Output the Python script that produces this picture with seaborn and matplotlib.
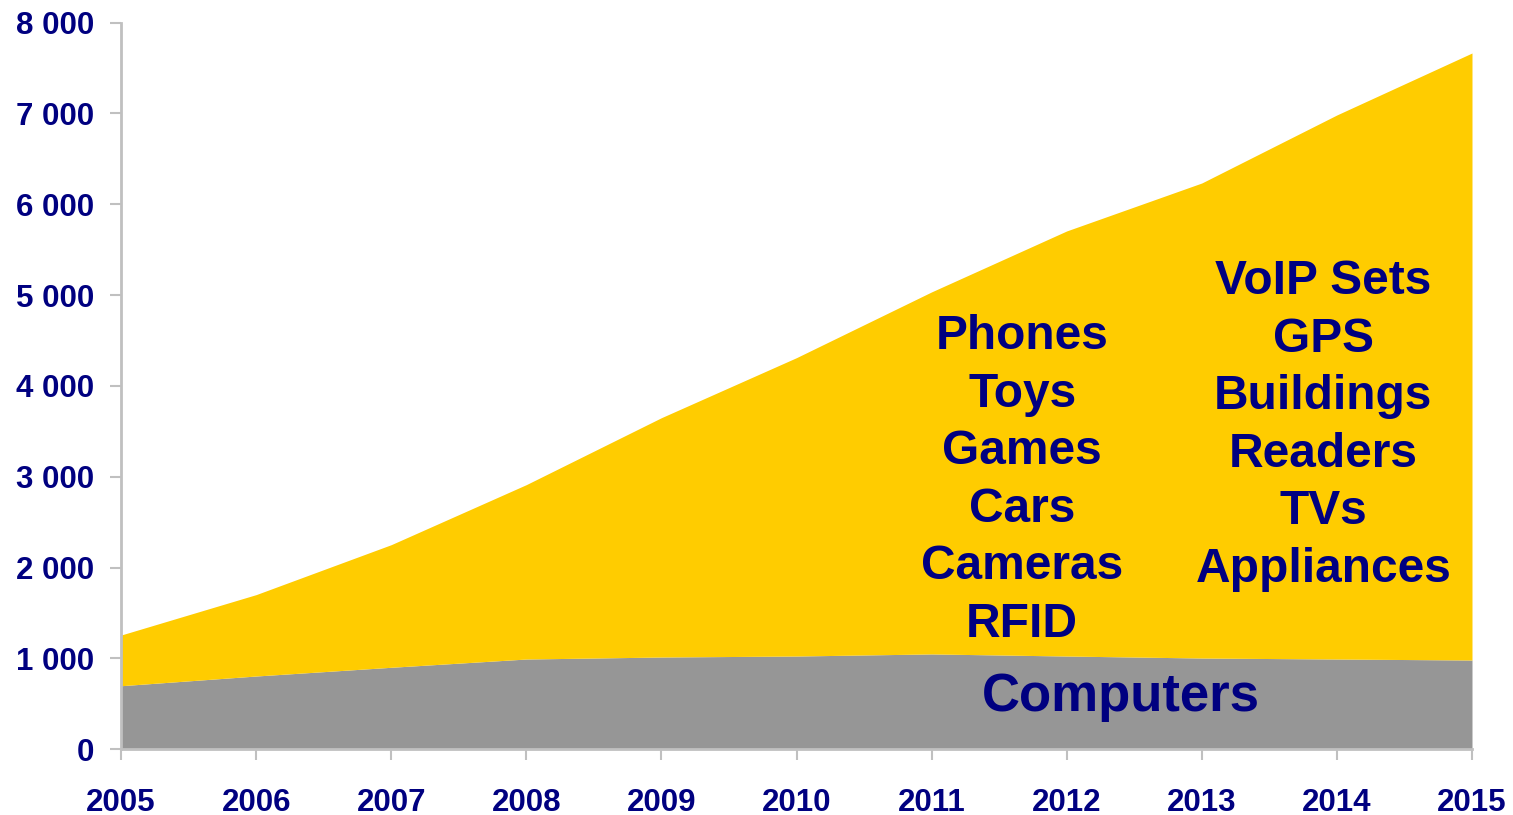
import matplotlib
matplotlib.use("Agg")
import matplotlib.pyplot as plt
import seaborn as sns

# Connected devices by category (thousands)
years = [2005, 2006, 2007, 2008, 2009, 2010, 2011, 2012, 2013, 2014, 2015]
computers = [700, 807, 903, 994, 1016, 1027, 1050, 1027, 1005, 994, 983]
other_devices = [558, 896, 1350, 1920, 2635, 3285, 3986, 4680, 5230, 5990, 6683]

y_ticks = [0, 1000, 2000, 3000, 4000, 5000, 6000, 7000, 8000]
y_tick_labels = ["0", "1 000", "2 000", "3 000", "4 000", "5 000", "6 000", "7 000", "8 000"]

left_labels = ["Phones", "Toys", "Games", "Cars", "Cameras", "RFID"]
right_labels = ["VoIP Sets", "GPS", "Buildings", "Readers", "TVs", "Appliances"]
base_label = "Computers"

NAVY = "#000080"
GOLD = "#FFCC00"
GREY = "#969696"
AXIS = "#C0C0C0"

sns.set_theme(style="white")
plt.rcParams["font.family"] = ["Liberation Sans", "DejaVu Sans"]
plt.rcParams["font.weight"] = "bold"

fig = plt.figure(figsize=(15.13, 8.15), dpi=100)
ax = fig.add_axes([0.0800, 0.0806, 0.8929, 0.8916])

ax.stackplot(years, computers, other_devices, colors=[GREY, GOLD], linewidth=0)

ax.set_xlim(years[0], years[-1])
ax.set_ylim(0, 8000)
ax.set_xticks(years)
ax.set_xticklabels([str(y) for y in years])
ax.set_yticks(y_ticks)
ax.set_yticklabels(y_tick_labels)

for side in ("top", "right"):
    ax.spines[side].set_visible(False)
for side in ("left", "bottom"):
    ax.spines[side].set_color(AXIS)
    ax.spines[side].set_linewidth(2)

ax.tick_params(axis="both", which="major", direction="out", length=8, width=1.5,
               color=AXIS, labelcolor=NAVY, labelsize=22.5, left=True, bottom=True)
ax.tick_params(axis="y", pad=11.5)
ax.tick_params(axis="x", pad=19.5)
for lbl in ax.get_xticklabels() + ax.get_yticklabels():
    lbl.set_fontweight("bold")
ax.grid(False)

# Category annotations inside the areas
step = 634
for i, word in enumerate(left_labels):
    ax.text(2011.67, 1236 + (len(left_labels) - 1 - i) * step, word,
            ha="center", va="baseline", color=NAVY, fontsize=34.5, fontweight="bold")
for i, word in enumerate(right_labels):
    ax.text(2013.90, 1842 + (len(right_labels) - 1 - i) * step, word,
            ha="center", va="baseline", color=NAVY, fontsize=34.5, fontweight="bold")
ax.text(2012.40, 425, base_label, ha="center", va="baseline", color=NAVY,
        fontsize=38, fontweight="bold")

fig.savefig("out.png", dpi=100)
